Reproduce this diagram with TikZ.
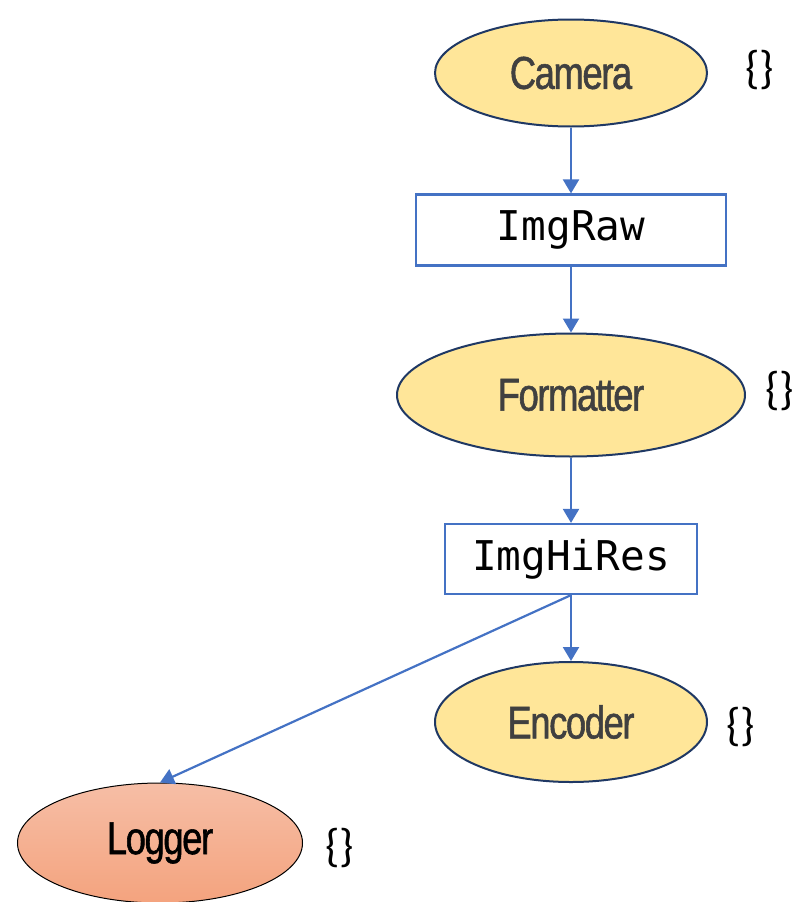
\documentclass[tikz,border=0pt]{standalone}
\usepackage{fontspec}
\usetikzlibrary{shapes.geometric,arrows.meta,shadings}
\newfontfamily\procfont[FakeStretch=0.79,FakeBold=1.2,LetterSpace=-3]{Liberation Sans}
\newfontfamily\msgfont{DejaVu Sans Mono}
\newfontfamily\bracefont{Carlito}
\definecolor{flowblue}{HTML}{4472C4}
\definecolor{procfill}{HTML}{FFE699}
\definecolor{procline}{HTML}{1F3864}
\definecolor{proctext}{HTML}{404040}
\definecolor{sinktop}{HTML}{F6BEA6}
\definecolor{sinkbot}{HTML}{F4A37E}
\tikzset{
  proc/.style={ellipse, draw=procline, line width=2pt, fill=procfill,
    inner sep=0pt, text=proctext, font=\procfont\fontsize{46}{50}\selectfont},
  sink/.style={ellipse, draw=black, line width=1pt, top color=sinktop,
    bottom color=sinkbot, inner sep=0pt, text=black,
    font=\procfont\fontsize{46}{50}\selectfont},
  msg/.style={rectangle, draw=flowblue, line width=2.2pt, fill=white,
    inner sep=0pt, font=\msgfont\fontsize{41}{44}\selectfont},
  braces/.style={inner sep=0pt, font=\bracefont\fontsize{46}{50}\selectfont},
  flow/.style={draw=flowblue, line width=2.2pt,
    -{Triangle[length=14pt,width=16pt]}}
}
\begin{document}
\begin{tikzpicture}[x=1pt,y=-1pt]
  \useasboundingbox (0,0) rectangle (798,902);
  % processes
  \node[proc, minimum width=272pt, minimum height=107pt] (cam) at (571,73) {Camera};
  \node[proc, minimum width=348pt, minimum height=123pt] (fmt) at (571,395) {Formatter};
  \node[proc, minimum width=272pt, minimum height=120pt] (enc) at (571,722) {Encoder};
  \node[sink, minimum width=285pt, minimum height=120pt] (log) at (160,843) {Logger};
  % message types
  \node[msg, minimum width=310pt, minimum height=71pt] (raw) at (571,230) {ImgRaw};
  \node[msg, minimum width=252pt, minimum height=70pt] (hires) at (571,559) {ImgHiRes};
  % parameter sets
  \node[braces] (camp) at (760,70) {\{\}};
  \node[braces] (fmtp) at (780,391) {\{\}};
  \node[braces] (encp) at (741,727) {\{\}};
  \node[braces] (logp) at (340,848) {\{\}};
  % data flow
  \draw[flow] (cam) -- (raw);
  \draw[flow] (raw) -- (fmt);
  \draw[flow] (fmt) -- (hires);
  \draw[flow] (hires) -- (enc);
  \draw[flow] (hires.south) -- (log.north);
\end{tikzpicture}
\end{document}
